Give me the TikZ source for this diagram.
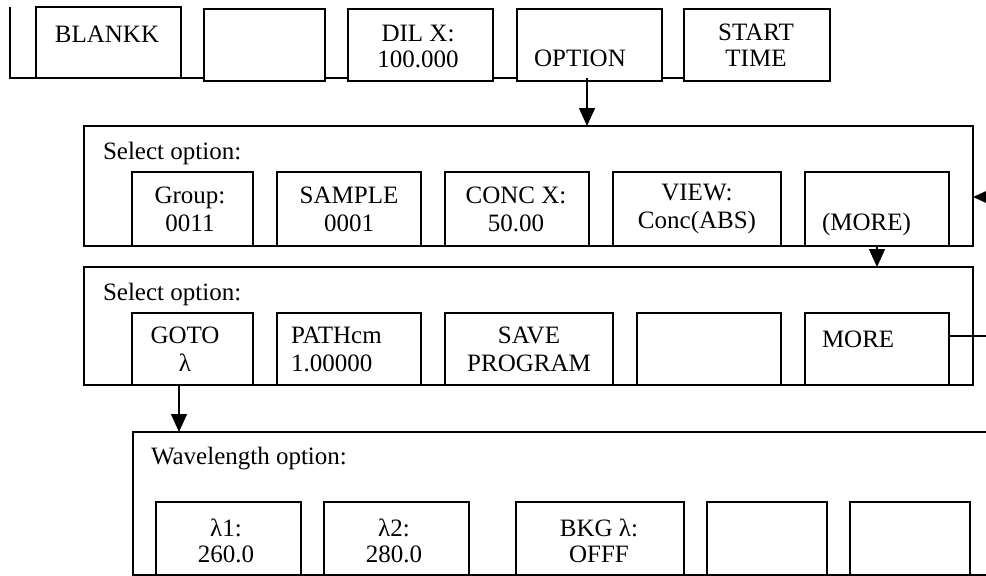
\documentclass[tikz,border=0pt]{standalone}
\usepackage{fontspec}
\setmainfont{Liberation Serif}
\usetikzlibrary{arrows.meta}
\begin{document}
\begin{tikzpicture}[x=1pt,y=-1pt,
  box/.style={draw, line width=1.4pt, rectangle, inner sep=0pt, outer sep=0pt, anchor=north west},
  txt/.style={inner sep=0pt, outer sep=0pt, font=\fontsize{25}{26}\selectfont, align=center},
  wtxt/.style={txt, font=\fontsize{25}{28}\selectfont},
  ltxt/.style={txt, align=left, anchor=west},
  conn/.style={line width=1.4pt},
  arr/.style={line width=1.4pt, -{Triangle[width=16pt,length=18pt]}}]
\useasboundingbox (0,0) rectangle (986,576);
\clip (0,0) rectangle (986,576);
% top row
\node[box, minimum width=145pt, minimum height=71pt] (blankk) at (36,7) {};
\node[box, minimum width=121pt, minimum height=72pt] (empty1) at (204,9) {};
\node[box, minimum width=145pt, minimum height=72pt] (dil) at (348,9) {};
\node[box, minimum width=145pt, minimum height=72pt] (option) at (517,9) {};
\node[box, minimum width=146pt, minimum height=72pt] (start) at (684,9) {};
\coordinate (tl) at (10,7);
\coordinate (bl) at (10,78);
\draw[conn] (tl) -- (bl) -- (blankk.south west);
\draw[conn] (blankk.south east) -- (blankk.south east -| empty1.west);
\draw[conn] (empty1.east |- blankk.south) -- (dil.west |- blankk.south);
\draw[conn] (dil.east |- blankk.south) -- (option.west |- blankk.south);
\draw[conn] (option.east |- blankk.south) -- (start.west |- blankk.south);
\node[txt] (tblankk) at (107,34) {BLANKK};
\node[txt] (tdil) at (418,46) {DIL X:\\100.000};
\node[txt] (toption) at (580,58) {OPTION};
\node[txt] (tstart) at (756,45) {START\\TIME};
% panel 1
\node[box, minimum width=889pt, minimum height=120pt] (p1) at (84,126) {};
\node[ltxt] (sel1) at (103,153) {Select option:};
\node[box, minimum width=121pt, minimum height=74pt] (g) at (132,172) {};
\node[box, minimum width=144pt, minimum height=74pt] (s) at (277,172) {};
\node[box, minimum width=144pt, minimum height=74pt] (c) at (445,172) {};
\node[box, minimum width=168pt, minimum height=74pt] (v) at (613,172) {};
\node[box, minimum width=144pt, minimum height=74pt] (m1) at (805,172) {};
\node[wtxt] (tg) at (190,209) {Group:\\0011};
\node[wtxt] (ts) at (349,209) {SAMPLE\\0001};
\node[wtxt] (tc) at (516,209) {CONC X:\\50.00};
\node[wtxt] (tv) at (697,209) {VIEW:\\Conc(ABS)};
\node[ltxt] (tm1) at (822,224) {(MORE)};
% panel 2
\node[box, minimum width=889pt, minimum height=118pt] (p2) at (84,267) {};
\node[ltxt] (sel2) at (103,294) {Select option:};
\node[box, minimum width=121pt, minimum height=72pt] (goto) at (132,313) {};
\node[box, minimum width=144pt, minimum height=72pt] (path) at (277,313) {};
\node[box, minimum width=168pt, minimum height=72pt] (save) at (445,313) {};
\node[box, minimum width=144pt, minimum height=72pt] (e2) at (637,313) {};
\node[box, minimum width=144pt, minimum height=72pt] (m2) at (805,313) {};
\node[wtxt] (tgoto) at (185,349) {GOTO\\λ};
\node[ltxt, font=\fontsize{25}{28}\selectfont] (tpath) at (291,349) {PATHcm\\1.00000};
\node[wtxt] (tsave) at (529,349) {SAVE\\PROGRAM};
\node[ltxt] (tm2) at (822,339) {MORE};
% panel 3
\node[box, minimum width=900pt, minimum height=143pt] (p3) at (133,432) {};
\node[ltxt] (wl) at (151,459) {Wavelength option:};
\node[box, minimum width=145pt, minimum height=73pt] (l1) at (156,502) {};
\node[box, minimum width=145pt, minimum height=73pt] (l2) at (324,502) {};
\node[box, minimum width=168pt, minimum height=73pt] (bkg) at (516,502) {};
\node[box, minimum width=120pt, minimum height=73pt] (e3) at (707,502) {};
\node[box, minimum width=120pt, minimum height=73pt] (e4) at (850,502) {};
\node[txt] (tl1) at (226,541) {λ1:\\260.0};
\node[txt] (tl2) at (394,541) {λ2:\\280.0};
\node[txt] (tbkg) at (599,541) {BKG λ:\\OFFF};
% arrows
\coordinate (a1) at (587,78);
\draw[arr] (a1) -- (a1 |- p1.north);
\coordinate (a2) at (1000,197);
\draw[arr] (a2) -- (a2 -| p1.east);
\draw[arr] (m1.south) -- (m1.south |- p2.north);
\coordinate (a3) at (179,385);
\draw[arr] (a3) -- (a3 |- p3.north);
\coordinate (a4) at (1000,336);
\draw[conn] (a4 -| m2.east) -- (a4);
\end{tikzpicture}
\end{document}
